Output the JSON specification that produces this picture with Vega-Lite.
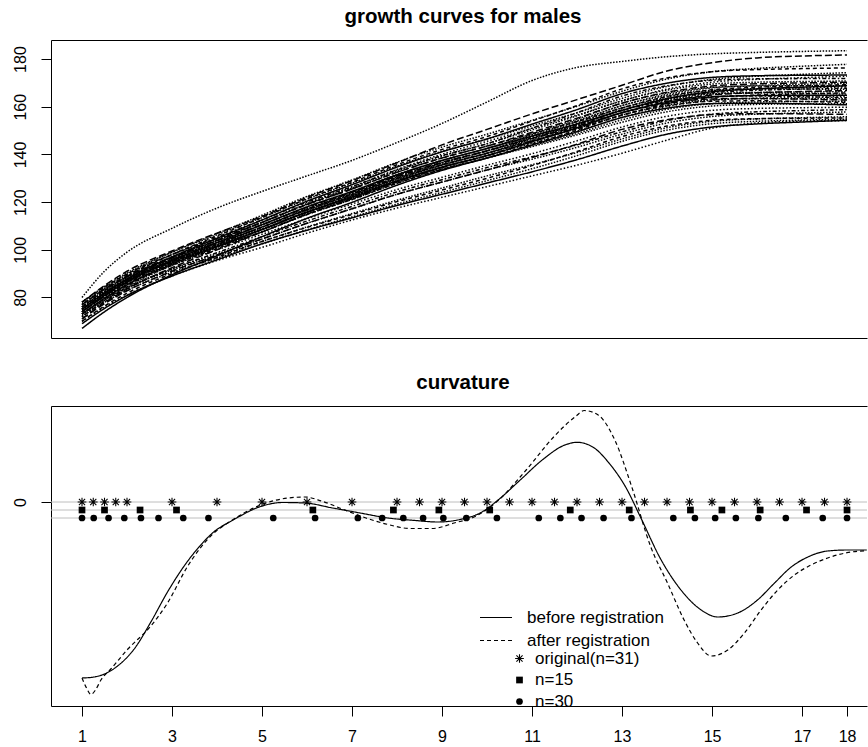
{
"$schema":"https://vega.github.io/schema/vega-lite/v6.json",
"background":"white",
"padding":{"left":11,"top":6,"right":0,"bottom":0},
"spacing":34,
"config":{
 "view":{"stroke":null},
 "font":"Liberation Sans",
 "axis":{"labelFont":"Liberation Sans","labelFontSize":16,"labelColor":"black","tickColor":"black","domainColor":"black","tickSize":10,"tickWidth":1,"domainWidth":1,"grid":false,"labelFlush":false,"labelOverlap":false},
 "title":{"font":"Liberation Sans","fontSize":20.5,"fontWeight":"bold","color":"black","anchor":"middle","baseline":"alphabetic","offset":13,"dx":4},
 "legend":{"labelFont":"Liberation Sans","labelColor":"black","padding":0}
},
"resolve":{"scale":{"strokeDash":"independent","shape":"independent","x":"independent","y":"independent"},"legend":{"strokeDash":"independent","shape":"independent"}},
"vconcat":[
{
 "title":"growth curves for males",
 "width":816,"height":298,
 "resolve":{"axis":{"x":"independent"}},
 "layer":[
  {
   "data":{"values":[
    {"id":"c01","age":[1,1.5,2,3,4,5,6,7,8,9,10,11,12,13,14,15,16,17,18],"h":[80,91,99,109,117.5,124.5,131,137.5,145,153,162,171,176.5,179,181,182.2,182.8,183.2,183.5]},
    {"id":"c02","age":[1,1.5,2,3,4,5,6,7,8,9,10,11,12,13,14,15,16,17,18],"h":[78,85,91,99.5,107,114,122,129,136.5,144,150.5,157,163,169,175,178.5,180.5,181.3,181.7]},
    {"id":"c03","age":[1,1.5,2,3,4,5,6,7,8,9,10,11,12,13,14,15,16,17,18],"h":[77,83.9,89.8,99,106.8,114.5,122.4,129.3,136.7,143.1,148.5,154.3,160.2,166.5,171.6,174.7,176.1,177,177.8]},
    {"id":"c04","age":[1,1.5,2,3,4,5,6,7,8,9,10,11,12,13,14,15,16,17,18],"h":[76,82.9,88.8,98,105.8,113.5,121.4,128.3,135.7,142.1,147.5,154,160.5,167.5,172.1,174.7,175.6,176,176.3]},
    {"id":"c05","age":[1,1.5,2,3,4,5,6,7,8,9,10,11,12,13,14,15,16,17,18],"h":[78,84.6,90.3,99,106.3,113.5,121.2,127.9,135.1,141.3,146.5,152,157.5,163.5,168.5,171.5,172.8,173.6,174.3]},
    {"id":"c06","age":[1,1.5,2,3,4,5,6,7,8,9,10,11,12,13,14,15,16,17,18],"h":[75,81.9,87.8,97,104.8,112.5,120.4,127.3,134.7,141.1,146.5,152.7,158.8,165.5,169.9,172.3,173,173.2,173.3]},
    {"id":"c07","age":[1,1.5,2,3,4,5,6,7,8,9,10,11,12,13,14,15,16,17,18],"h":[74,80.9,86.8,96,103.8,111.5,119.4,126.3,133.7,140.1,145.5,151,156.5,162.5,167.4,170.3,171.5,172.2,172.8]},
    {"id":"c08","age":[1,1.5,2,3,4,5,6,7,8,9,10,11,12,13,14,15,16,17,18],"h":[77,83.6,89.3,98,105.3,112.5,120,126.5,133.5,139.5,144.5,151,157.5,164.5,168.8,171.1,171.7,171.8,171.8]},
    {"id":"c09","age":[1,1.5,2,3,4,5,6,7,8,9,10,11,12,13,14,15,16,17,18],"h":[76,82.6,88.3,97,104.3,111.5,119.2,125.9,133.1,139.3,144.5,150.3,156.2,162.5,167,169.5,170.3,170.6,170.8]},
    {"id":"c10","age":[1,1.5,2,3,4,5,6,7,8,9,10,11,12,13,14,15,16,17,18],"h":[75,81.8,87.5,96.5,104,111.5,119,125.5,132.5,138.5,143.5,149.3,155.2,161.5,166.1,168.7,169.6,170,170.3]},
    {"id":"c11","age":[1,1.5,2,3,4,5,6,7,8,9,10,11,12,13,14,15,16,17,18],"h":[73,79.8,85.5,94.5,102,109.5,117.2,123.9,131.1,137.3,142.5,148.3,154.2,160.5,165.2,167.9,168.9,169.4,169.8]},
    {"id":"c12","age":[1,1.5,2,3,4,5,6,7,8,9,10,11,12,13,14,15,16,17,18],"h":[78,84.4,89.8,98,104.8,111.5,119,125.5,132.5,138.5,143.5,148.7,153.8,159.5,164.3,167.1,168.2,168.8,169.3]},
    {"id":"c13","age":[1,1.5,2,3,4,5,6,7,8,9,10,11,12,13,14,15,16,17,18],"h":[75,81.6,87.3,96,103.3,110.5,118,124.5,131.5,137.5,142.5,148.7,154.8,161.5,165.8,168.1,168.7,168.8,168.8]},
    {"id":"c14","age":[1,1.5,2,3,4,5,6,7,8,9,10,11,12,13,14,15,16,17,18],"h":[74,80.8,86.5,95.5,103,110.5,118,124.5,131.5,137.5,142.5,147.7,152.8,158.5,163.4,166.3,167.5,168.2,168.8]},
    {"id":"c15","age":[1,1.5,2,3,4,5,6,7,8,9,10,11,12,13,14,15,16,17,18],"h":[76,82.4,87.8,96,102.8,109.5,117,123.5,130.5,136.5,141.5,147.3,153.2,159.5,164.1,166.7,167.6,168,168.3]},
    {"id":"c16","age":[1,1.5,2,3,4,5,6,7,8,9,10,11,12,13,14,15,16,17,18],"h":[75,81.5,87,95.5,102.5,109.5,117,123.5,130.5,136.5,141.5,147,152.5,158.5,163.2,165.9,166.9,167.4,167.8]},
    {"id":"c17","age":[1,1.5,2,3,4,5,6,7,8,9,10,11,12,13,14,15,16,17,18],"h":[72,78.8,84.5,93.5,101,108.5,116.2,122.9,130.1,136.3,141.5,147.7,153.8,160.5,164.7,166.9,167.4,167.4,167.3]},
    {"id":"c18","age":[1,1.5,2,3,4,5,6,7,8,9,10,11,12,13,14,15,16,17,18],"h":[77,83.4,88.8,97,103.8,110.5,117.8,124.1,130.9,136.7,141.5,146.7,151.8,157.5,162.2,164.9,165.9,166.4,166.8]},
    {"id":"c19","age":[1,1.5,2,3,4,5,6,7,8,9,10,11,12,13,14,15,16,17,18],"h":[75,81.4,86.8,95,101.8,108.5,116,122.5,129.5,135.5,140.5,146.3,152.2,158.5,162.9,165.3,166,166.2,166.3]},
    {"id":"c20","age":[1,1.5,2,3,4,5,6,7,8,9,10,11,12,13,14,15,16,17,18],"h":[74,80.6,86.3,95,102.3,109.5,116.8,123.1,129.9,135.7,140.5,145.7,150.8,156.5,161.2,163.9,164.9,165.4,165.8]},
    {"id":"c21","age":[1,1.5,2,3,4,5,6,7,8,9,10,11,12,13,14,15,16,17,18],"h":[76,82.3,87.5,95.5,102,108.5,116,122.5,129.5,135.5,140.5,146.7,152.8,159.5,163.5,165.5,165.8,165.6,165.3]},
    {"id":"c22","age":[1,1.5,2,3,4,5,6,7,8,9,10,11,12,13,14,15,16,17,18],"h":[73,79.6,85.3,94,101.3,108.5,115.8,122.1,128.9,134.7,139.5,145.3,151.2,157.5,161.8,164.1,164.7,164.8,164.8]},
    {"id":"c23","age":[1,1.5,2,3,4,5,6,7,8,9,10,11,12,13,14,15,16,17,18],"h":[75,81.3,86.5,94.5,101,107.5,115,121.5,128.5,134.5,139.5,144.7,149.8,155.5,160.1,162.7,163.6,164,164.3]},
    {"id":"c24","age":[1,1.5,2,3,4,5,6,7,8,9,10,11,12,13,14,15,16,17,18],"h":[74,80.5,86,94.5,101.5,108.5,115.8,122.1,128.9,134.7,139.5,145.7,151.8,158.5,162.4,164.3,164.5,164.2,163.8]},
    {"id":"c25","age":[1,1.5,2,3,4,5,6,7,8,9,10,11,12,13,14,15,16,17,18],"h":[77,83.3,88.5,96.5,103,109.5,116.8,123.1,129.9,135.7,140.5,145.7,150.8,156.5,160.7,162.9,163.4,163.4,163.3]},
    {"id":"c26","age":[1,1.5,2,3,4,5,6,7,8,9,10,11,12,13,14,15,16,17,18],"h":[71,77.8,83.5,92.5,100,107.5,115,121.5,128.5,134.5,139.5,145.3,151.2,157.5,161.4,163.3,163.5,163.2,162.8]},
    {"id":"c27","age":[1,1.5,2,3,4,5,6,7,8,9,10,11,12,13,14,15,16,17,18],"h":[75,81.4,86.8,95,101.8,108.5,115.6,121.7,128.3,133.9,138.5,143.7,148.8,154.5,158.9,161.3,162,162.2,162.3]},
    {"id":"c28","age":[1,1.5,2,3,4,5,6,7,8,9,10,11,12,13,14,15,16,17,18],"h":[73,79.5,85,93.5,100.5,107.5,114.8,121.1,127.9,133.7,138.5,144.3,150.2,156.5,160.4,162.3,162.5,162.2,161.8]},
    {"id":"c29","age":[1,1.5,2,3,4,5,6,7,8,9,10,11,12,13,14,15,16,17,18],"h":[76,82.1,87.3,95,101.3,107.5,114.8,121.1,127.9,133.7,138.5,143.3,148.2,153.5,157.9,160.3,161,161.2,161.3]},
    {"id":"c30","age":[1,1.5,2,3,4,5,6,7,8,9,10,11,12,13,14,15,16,17,18],"h":[67,74,80,89.5,97.5,105.5,113.2,119.9,127.1,133.3,138.5,144,149.5,155.5,159.4,161.3,161.5,161.2,160.8]},
    {"id":"c31","age":[1,1.5,2,3,4,5,6,7,8,9,10,11,12,13,14,15,16,17,18],"h":[74,80.3,85.5,93.5,100,106.5,113.1,119.2,125.3,130.4,135.5,140.3,145.7,151.5,156,158.5,159.3,159.6,159.8]},
    {"id":"c32","age":[1,1.5,2,3,4,5,6,7,8,9,10,11,12,13,14,15,16,17,18],"h":[72,78.4,83.8,92,98.8,105.5,112.1,118.2,124.3,129.4,134.5,139,144,149.5,154.2,156.9,157.9,158.4,158.8]},
    {"id":"c33","age":[1,1.5,2,3,4,5,6,7,8,9,10,11,12,13,14,15,16,17,18],"h":[73,79.1,84.3,92,98.3,104.5,111.1,117.2,123.3,128.4,133.5,138,143,148.5,153.2,155.9,156.9,157.4,157.8]},
    {"id":"c34","age":[1,1.5,2,3,4,5,6,7,8,9,10,11,12,13,14,15,16,17,18],"h":[71,77.4,82.8,91,97.8,104.5,111.1,117.2,123.3,128.4,133.5,138.7,144.3,150.5,154.6,156.7,157.1,157,156.8]},
    {"id":"c35","age":[1,1.5,2,3,4,5,6,7,8,9,10,11,12,13,14,15,16,17,18],"h":[73,79,84,91.5,97.5,103.5,109.6,115.2,120.8,125.9,131,135.7,140.8,146.5,151.2,153.9,154.9,155.4,155.8]},
    {"id":"c36","age":[1,1.5,2,3,4,5,6,7,8,9,10,11,12,13,14,15,16,17,18],"h":[70,76.4,81.8,90,96.8,103.5,109.4,114.8,120.2,125.1,130,135.3,141.2,147.5,151.9,154.3,155,155.2,155.3]},
    {"id":"c37","age":[1,1.5,2,3,4,5,6,7,8,9,10,11,12,13,14,15,16,17,18],"h":[72,78,83,90.5,96.5,102.5,108.4,113.8,119.2,124.1,129,134,139.5,145.5,150.2,152.9,153.9,154.4,154.8]},
    {"id":"c38","age":[1,1.5,2,3,4,5,6,7,8,9,10,11,12,13,14,15,16,17,18],"h":[69,75.4,80.8,89,95.8,102.5,108.2,113.4,118.6,123.3,128,132.7,137.8,143.5,148.5,151.5,152.8,153.6,154.3]},
    {"id":"c39","age":[1,1.5,2,3,4,5,6,7,8,9,10,11,12,13,14,15,16,17,18],"h":[70,76,81,89,95.5,101,107,112.5,117.5,122,126.5,131,135.5,140.5,146,151,153.2,154,154.2]}
   ]},
   "transform":[{"flatten":["age","h"]}],
   "mark":{"type":"line","color":"black","strokeWidth":1.5,"interpolate":"monotone"},
   "encoding":{
    "x":{"field":"age","type":"quantitative","scale":{"domain":[0.311,18.444],"nice":false,"zero":false},"axis":{"orient":"bottom","labels":false,"ticks":false,"domain":true,"title":null,"minExtent":0,"maxExtent":0}},
    "y":{"field":"h","type":"quantitative","scale":{"domain":[63,188],"nice":false,"zero":false},"axis":{"values":[80,100,120,140,160,180],"labelAngle":-90,"labelAlign":"center","labelBaseline":"alphabetic","labelPadding":16,"title":null}},
    "detail":{"field":"id"},
    "strokeDash":{"field":"id","type":"nominal","scale":{"range":[[1.5,1.5],[7,3],[1.5,1.5],[4,3],[1.5,1.5],[1,0],[1.5,2],[1.5,2,4,2]]},"legend":null}
   }
  },
  {
   "data":{"values":[{"age":1}]},
   "mark":{"type":"point","opacity":0},
   "encoding":{"x":{"field":"age","type":"quantitative","scale":{"domain":[0.311,18.444],"nice":false,"zero":false},"axis":{"orient":"top","labels":false,"ticks":false,"domain":true,"title":null,"minExtent":0,"maxExtent":0}}}
  }
 ]
},
{
 "title":"curvature",
 "width":816,"height":300,
 "resolve":{"axis":{"x":"independent"}},
 "layer":[
  {
   "data":{"values":[{"k":0},{"k":-0.8},{"k":-1.6}]},
   "mark":{"type":"rule","color":"#bebebe","strokeWidth":1},
   "encoding":{"y":{"field":"k","type":"quantitative","scale":{"domain":[-20.4,9.6],"nice":false,"zero":false},"axis":{"values":[0],"labelAngle":-90,"labelAlign":"center","labelBaseline":"alphabetic","labelPadding":16,"title":null}}}
  },
  {
   "data":{"values":[
    {"reg":"before registration","age":[1,1.27,1.5,1.79,2.16,2.53,2.9,3.27,3.6,3.9,4.36,4.97,5.46,5.95,6.57,7.18,7.8,8.41,8.9,9.4,9.89,10.26,10.75,11.24,11.73,12,12.35,12.71,13.08,13.42,13.87,14.31,14.76,15.13,15.57,16.01,16.39,16.76,17.13,17.57,18,18.44],"k":[-17.6,-17.5,-17.2,-16.4,-14.7,-12,-9,-6.4,-4.5,-3.1,-1.8,-0.45,-0.05,-0.1,-0.6,-1.1,-1.6,-1.85,-2,-1.75,-1,0.25,2.25,4.25,5.7,5.97,5.5,3.9,1.5,-1.6,-5.8,-8.8,-10.8,-11.5,-11.1,-9.8,-8.1,-6.5,-5.5,-4.9,-4.8,-4.8]},
    {"reg":"after registration","age":[1,1.1,1.2,1.3,1.42,1.64,2.02,2.53,2.9,3.35,3.86,4.36,4.97,5.58,5.95,6.32,6.81,7.31,7.8,8.29,8.78,9.27,9.76,10.26,10.87,11.49,11.98,12.16,12.47,12.84,13.21,13.64,14.01,14.38,14.68,14.98,15.35,15.72,16.09,16.46,16.83,17.2,17.57,18,18.44],"k":[-17.6,-18.6,-19.25,-18.8,-17.8,-16.7,-14.7,-12.4,-10.1,-6.4,-3.4,-1.75,-0.3,0.4,0.5,0.1,-0.75,-1.6,-2.25,-2.65,-2.65,-2.1,-1.4,0.2,3.2,6.55,8.6,9.15,8.7,6.2,1.6,-4.5,-8.1,-11.8,-14.1,-15.4,-14.8,-13.1,-10.8,-8.8,-7.3,-6.3,-5.6,-5.07,-4.87]}
   ]},
   "transform":[{"flatten":["age","k"]}],
   "mark":{"type":"line","color":"black","strokeWidth":1.2,"interpolate":"monotone","clip":true},
   "encoding":{
    "x":{"field":"age","type":"quantitative","scale":{"domain":[0.311,18.444],"nice":false,"zero":false},"axis":{"orient":"bottom","values":[1,3,5,7,9,11,13,15,17,18],"labelAngle":0,"labelBaseline":"alphabetic","labelPadding":25.5,"title":null}},
    "y":{"field":"k","type":"quantitative","scale":{"domain":[-20.4,9.6],"nice":false,"zero":false},"axis":{"values":[0],"labelAngle":-90,"labelAlign":"center","labelBaseline":"alphabetic","labelPadding":16,"title":null}},
    "strokeDash":{"field":"reg","type":"nominal","scale":{"domain":["before registration","after registration"],"range":[[1,0],[4,3]]},"legend":{"title":null,"orient":"none","legendX":428,"legendY":203,"symbolType":"stroke","symbolSize":1024,"clipHeight":17,"symbolStrokeWidth":1.2,"symbolStrokeColor":"black","labelFontSize":17,"labelOffset":14,"rowPadding":5,"padding":0}}
   }
  },
  {
   "data":{"values":[
    {"set":"original(n=31)","k":0,"age":[1,1.25,1.5,1.75,2,3,4,5,6,7,8,8.5,9,9.5,10,10.5,11,11.5,12,12.5,13,13.5,14,14.5,15,15.5,16,16.5,17,17.5,18]},
    {"set":"n=15","k":-0.8,"age":[1,1.5,2.29,3.1,6.13,7.92,8.93,10.06,11.85,13.16,14.52,15.22,16.07,17.1,18]},
    {"set":"n=30","k":-1.6,"age":[1,1.26,1.59,1.94,2.31,2.7,3.25,3.81,5.25,6.18,7.13,7.67,8.14,8.58,9.03,9.54,10.22,11.15,11.63,12.1,12.59,13.21,14.14,14.62,15.07,15.53,16.03,16.64,17.46,18]}
   ]},
   "transform":[{"flatten":["age"]}],
   "mark":{"type":"point","filled":true,"fill":"black","strokeWidth":0,"size":45,"opacity":1},
   "encoding":{
    "x":{"field":"age","type":"quantitative","scale":{"domain":[0.311,18.444],"nice":false,"zero":false},"axis":null},
    "y":{"field":"k","type":"quantitative","scale":{"domain":[-20.4,9.6],"nice":false,"zero":false},"axis":{"values":[0],"labelAngle":-90,"labelAlign":"center","labelBaseline":"alphabetic","labelPadding":16,"title":null}},
    "shape":{"field":"set","type":"nominal","scale":{"domain":["original(n=31)","n=15","n=30"],"range":["M-1.3,-0.16L1.3,-0.16L1.3,0.16L-1.3,0.16ZM-0.16,-1.3L0.16,-1.3L0.16,1.3L-0.16,1.3ZM-1.033,-0.807L-0.807,-1.033L1.033,0.807L0.807,1.033ZM0.807,-1.033L1.033,-0.807L-0.807,1.033L-1.033,0.807Z","square","circle"]},"legend":{"title":null,"orient":"none","legendX":460,"legendY":244,"symbolSize":45,"symbolFillColor":"black","symbolStrokeWidth":0,"labelFontSize":17,"labelOffset":7,"rowPadding":3.5,"padding":0,"encode":{"symbols":{"update":{"fill":{"value":"black"},"opacity":{"value":1}}}}}}
   }
  },
  {
   "data":{"values":[{"age":1}]},
   "mark":{"type":"point","opacity":0},
   "encoding":{"x":{"field":"age","type":"quantitative","scale":{"domain":[0.311,18.444],"nice":false,"zero":false},"axis":{"orient":"top","labels":false,"ticks":false,"domain":true,"title":null,"minExtent":0,"maxExtent":0}}}
  }
 ]
}
]
}
